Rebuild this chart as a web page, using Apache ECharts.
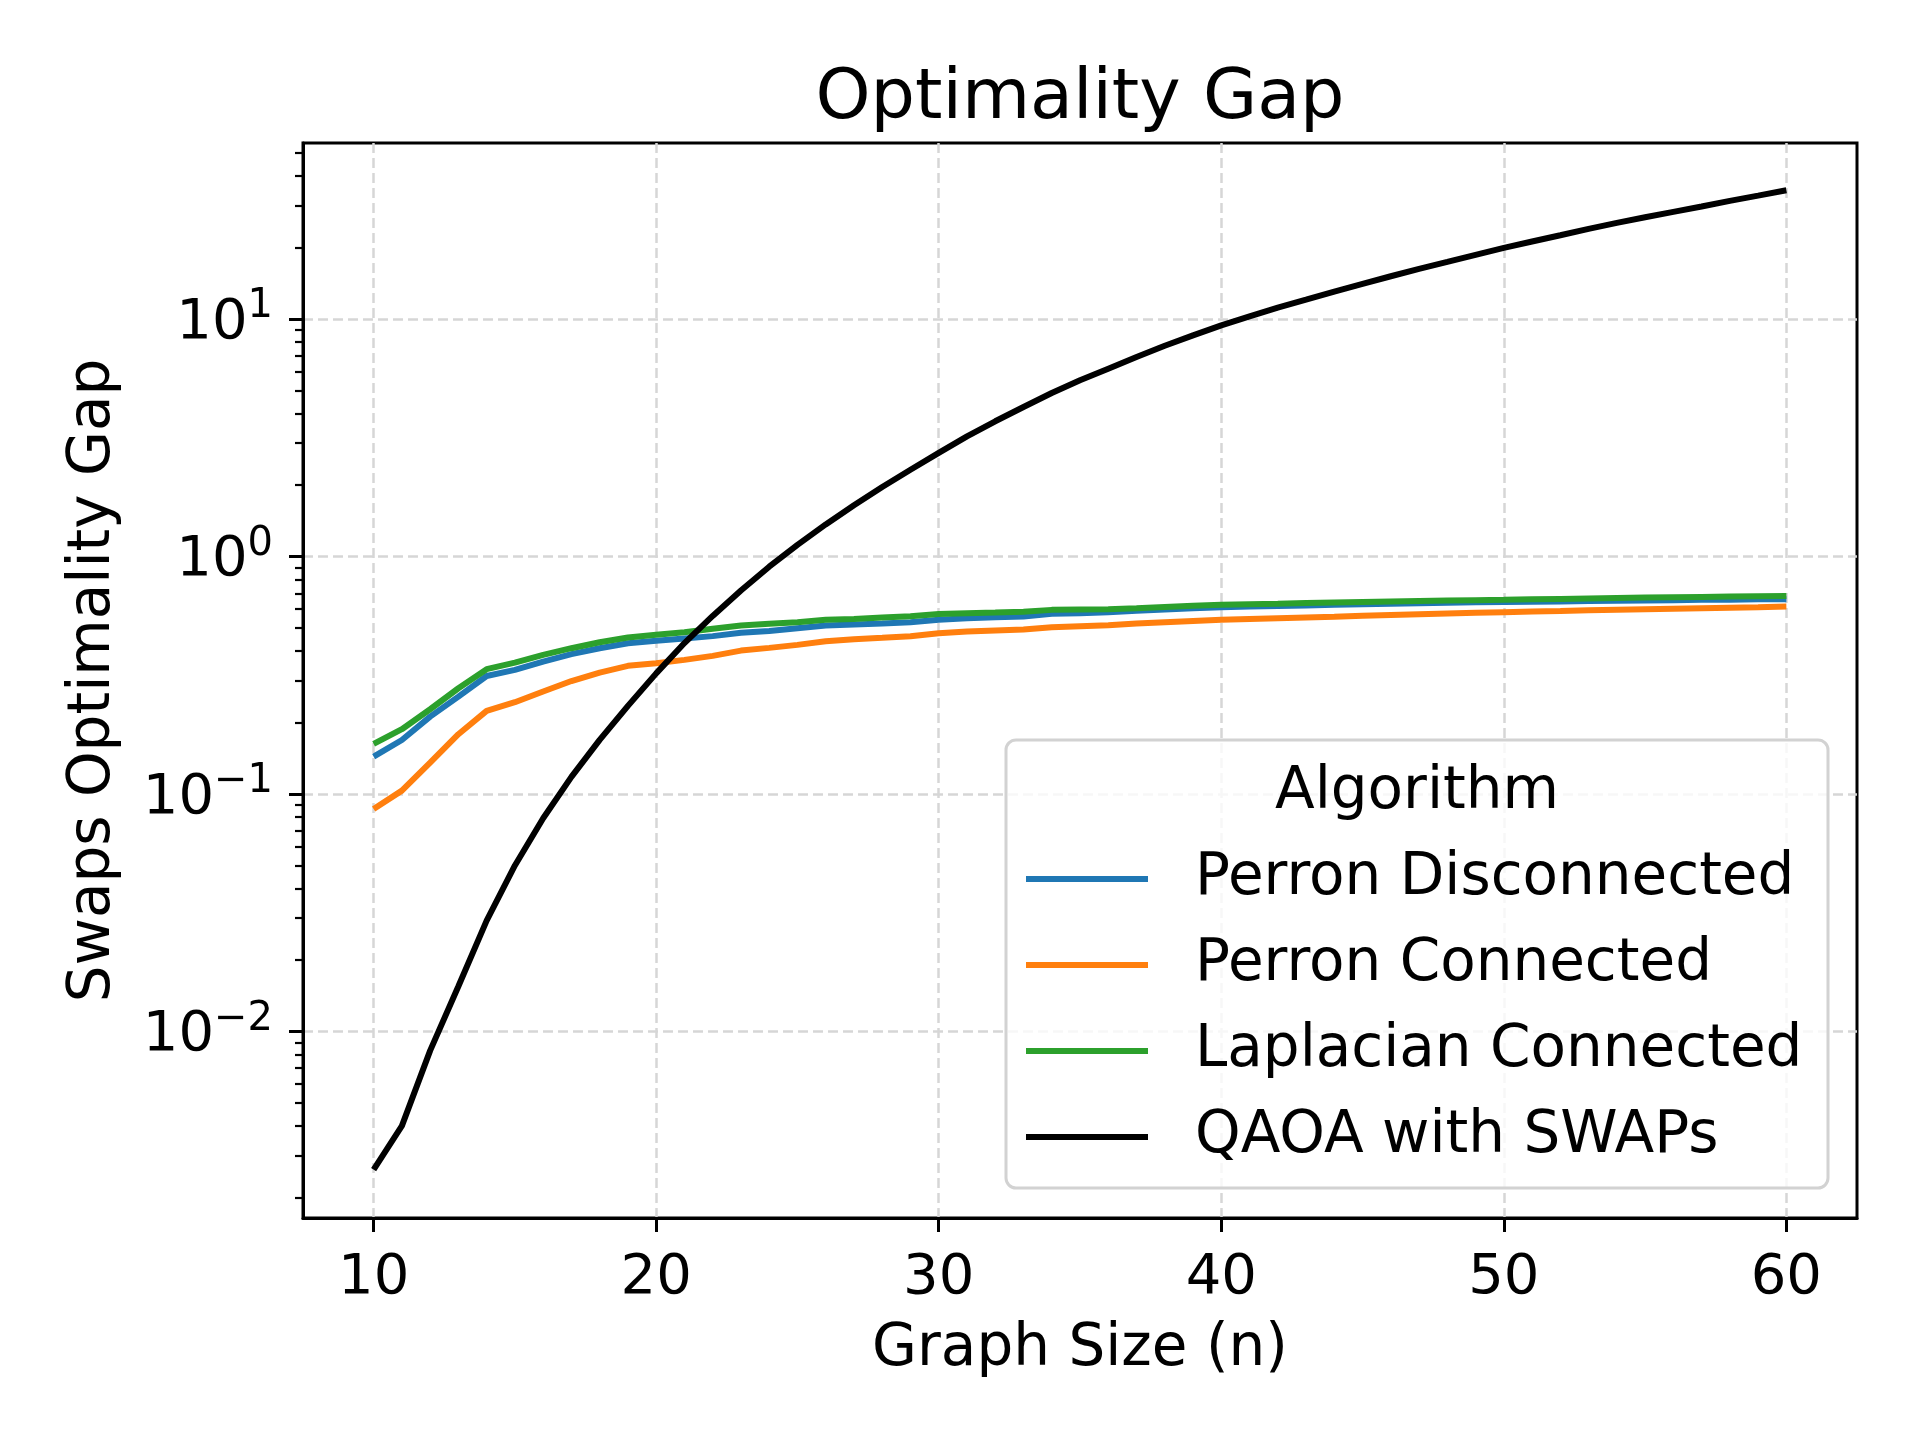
<!DOCTYPE html>
<html>

<head>
  <meta charset="utf-8">
  <script src="https://cdn.jsdelivr.net/npm/echarts@6/dist/echarts.min.js"></script>
  <style>
    body { margin: 0; background: #fff; }
    #main { width: 1920px; height: 1440px; }
  </style>
</head>

<body>
  <div id="main"></div>
  <script type="text/javascript">
    // graph sizes n
    var sizes = [10, 11, 12, 13, 14, 15, 16, 17, 18, 19, 20, 21, 22, 23, 24, 25, 26, 27, 28, 29, 30,
      31, 32, 33, 34, 35, 36, 37, 38, 39, 40, 41, 42, 43, 44, 45, 46, 47, 48, 49, 50,
      51, 52, 53, 54, 55, 56, 57, 58, 59, 60];

    var perronDisconnected = [0.1436, 0.1688, 0.2117, 0.257, 0.314, 0.333, 0.361, 0.388, 0.411, 0.4315, 0.442,
      0.452, 0.462, 0.477, 0.486, 0.499, 0.512, 0.517, 0.522, 0.529, 0.541,
      0.55, 0.555, 0.5585, 0.5735, 0.5774, 0.583, 0.591, 0.598, 0.605, 0.612,
      0.616, 0.619, 0.622, 0.626, 0.629, 0.632, 0.635, 0.638, 0.641, 0.643,
      0.645, 0.647, 0.649, 0.651, 0.653, 0.655, 0.657, 0.658, 0.66, 0.661];

    var perronConnected = [0.0865, 0.1033, 0.1355, 0.1785, 0.2238, 0.2434, 0.27, 0.299, 0.3245, 0.3463, 0.355,
      0.367, 0.3815, 0.4015, 0.4123, 0.4245, 0.4397, 0.4487, 0.4543, 0.4617, 0.4755,
      0.483, 0.4877, 0.4925, 0.5038, 0.5087, 0.5137, 0.522, 0.529, 0.535, 0.541,
      0.546, 0.55, 0.554, 0.558, 0.5625, 0.567, 0.571, 0.575, 0.579, 0.583,
      0.587, 0.59, 0.594, 0.597, 0.6, 0.603, 0.606, 0.609, 0.612, 0.6155];

    var laplacianConnected = [0.1625, 0.1874, 0.2274, 0.2788, 0.3353, 0.3575, 0.3853, 0.411, 0.4356, 0.456, 0.468,
      0.48, 0.496, 0.512, 0.5205, 0.529, 0.541, 0.546, 0.5535, 0.5605, 0.572,
      0.5774, 0.5808, 0.5848, 0.596, 0.598, 0.6, 0.606, 0.613, 0.62, 0.626,
      0.63, 0.633, 0.637, 0.64, 0.643, 0.646, 0.649, 0.652, 0.655, 0.657,
      0.66, 0.663, 0.666, 0.669, 0.672, 0.674, 0.676, 0.678, 0.68, 0.681];

    var qaoaSwaps = [0.00262, 0.004, 0.0083, 0.0155, 0.0293, 0.05, 0.079, 0.118, 0.169, 0.235, 0.322,
      0.432, 0.562, 0.719, 0.906, 1.12, 1.365, 1.644, 1.963, 2.32, 2.73,
      3.205, 3.71, 4.263, 4.88, 5.52, 6.18, 6.92, 7.72, 8.54, 9.41,
      10.27, 11.17, 12.07, 13.05, 14.06, 15.14, 16.26, 17.4, 18.63, 19.93,
      21.2, 22.53, 23.97, 25.41, 26.83, 28.27, 29.76, 31.45, 33.1, 34.85];

    var seriesNames = ['Perron Disconnected', 'Perron Connected', 'Laplacian Connected', 'QAOA with SWAPs'];
    var seriesColors = ['#1f77b4', '#ff7f0e', '#2ca02c', '#000000'];
    var seriesData = [perronDisconnected, perronConnected, laplacianConnected, qaoaSwaps];

    // tick labels / positions
    var xTicks = [10, 20, 30, 40, 50, 60];
    var yMajorTicks = [0.01, 0.1, 1, 10];
    var yMinorTicks = [0.002, 0.003, 0.004, 0.005, 0.006, 0.007, 0.008, 0.009,
      0.02, 0.03, 0.04, 0.05, 0.06, 0.07, 0.08, 0.09,
      0.2, 0.3, 0.4, 0.5, 0.6, 0.7, 0.8, 0.9,
      2, 3, 4, 5, 6, 7, 8, 9, 20, 30, 40, 50];

    var FONT = 'DejaVu Sans';

    function pow10Label(v) {
      var e = Math.round(Math.log10(v));
      var s = e < 0 ? '\u2212' + (-e) : '' + e;
      return '{b|10}{s|' + s + '}';
    }

    var series = seriesNames.map(function (name, i) {
      return {
        name: name,
        type: 'line',
        symbol: 'none',
        showSymbol: false,
        color: seriesColors[i],
        lineStyle: { width: 6, color: seriesColors[i] },
        data: sizes.map(function (n, k) { return [n, seriesData[i][k]]; })
      };
    });

    var myChart = echarts.init(document.getElementById('main'));
    var option = {
      animation: false,
      backgroundColor: '#ffffff',
      title: {
        text: 'Optimality Gap',
        left: 1075,
        top: 60,
        textAlign: 'center',
        textStyle: { fontFamily: FONT, fontSize: 70, fontWeight: 'normal', color: '#000' }
      },
      grid: {
        left: 303, top: 143, right: 63, bottom: 222,
        show: true, borderColor: '#000', borderWidth: 3, backgroundColor: 'transparent'
      },
      legend: {
        orient: 'vertical',
        left: 1026,
        top: 849,
        padding: 0,
        itemWidth: 122,
        itemHeight: 6,
        itemGap: 26,
        icon: 'rect',
        z: 6,
        data: seriesNames,
        textStyle: { fontFamily: FONT, fontSize: 58, color: '#000', lineHeight: 60, padding: [0, 0, 0, 42] }
      },
      graphic: [
        {
          type: 'rect',
          z: 3,
          shape: { x: 1006, y: 740, width: 822, height: 448, r: 10 },
          style: { fill: 'rgba(255,255,255,0.8)', stroke: '#d2d2d2', lineWidth: 3 }
        },
        {
          type: 'text',
          z: 6,
          x: 1417,
          y: 793,
          style: { text: 'Algorithm', fontFamily: FONT, fontSize: 58, fill: '#000', align: 'center', verticalAlign: 'middle' }
        }
      ],
      xAxis: {
        type: 'value',
        min: 7.5,
        max: 62.5,
        name: 'Graph Size (n)',
        nameLocation: 'middle',
        nameGap: 103,
        nameTextStyle: { fontFamily: FONT, fontSize: 58, color: '#000' },
        axisLine: { show: true, lineStyle: { color: '#000', width: 3 } },
        axisTick: { show: true, length: 14, customValues: xTicks, lineStyle: { color: '#000', width: 3 } },
        axisLabel: {
          customValues: xTicks, margin: 32,
          fontFamily: FONT, fontSize: 56, color: '#000'
        },
        splitLine: { show: true, lineStyle: { color: '#d6d6d6', width: 2.5, type: [10, 5] } }
      },
      yAxis: [
        {
          type: 'log',
          min: 0.001638,
          max: 55.12,
          position: 'left',
          name: 'Swaps Optimality Gap',
          nameLocation: 'middle',
          nameGap: 180,
          nameTextStyle: { fontFamily: FONT, fontSize: 58, color: '#000' },
          axisLine: { show: true, lineStyle: { color: '#000', width: 3 } },
          axisTick: { show: true, length: 14, customValues: yMajorTicks, lineStyle: { color: '#000', width: 3 } },
          axisLabel: {
            customValues: yMajorTicks,
            margin: 30,
            formatter: pow10Label,
            rich: {
              b: { fontFamily: FONT, fontSize: 56, color: '#000', lineHeight: 64, verticalAlign: 'bottom' },
              s: { fontFamily: FONT, fontSize: 40, color: '#000', lineHeight: 40, verticalAlign: 'top' }
            }
          },
          minorTick: { show: false },
          splitLine: { show: true, lineStyle: { color: '#d6d6d6', width: 2.5, type: [10, 5] } }
        },
        {
          type: 'log',
          min: 0.001638,
          max: 55.12,
          position: 'left',
          offset: 0,
          axisLine: { show: false },
          axisTick: { show: true, length: 8, customValues: yMinorTicks, lineStyle: { color: '#000', width: 2.2 } },
          axisLabel: { show: false },
          splitLine: { show: false }
        }
      ],
      series: series
    };
    myChart.setOption(option);
  </script>
</body>

</html>
